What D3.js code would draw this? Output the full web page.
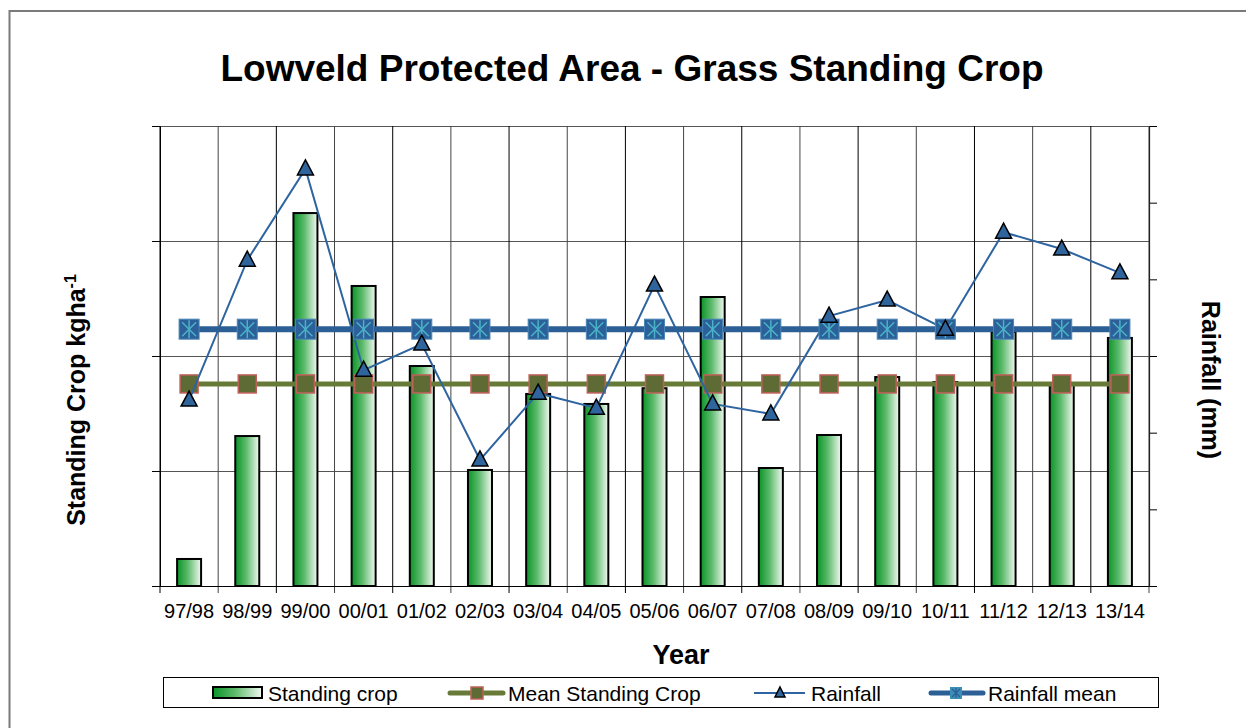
<!DOCTYPE html>
<html><head><meta charset="utf-8">
<script src="https://cdn.jsdelivr.net/npm/d3@7"></script>
<style>
body{margin:0;background:#fff;}
text{font-family:"Liberation Sans",Arial,sans-serif;}
</style></head>
<body><svg id="c" width="1246" height="728"></svg>
<script>
const years = ["97/98","98/99","99/00","00/01","01/02","02/03","03/04","04/05","05/06","06/07","07/08","08/09","09/10","10/11","11/12","12/13","13/14"];
const standingCrop = [235,1304,3243,2609,1913,1009,1670,1583,1720,2513,1026,1313,1817,1774,2209,1748,2157];
const meanStandingCrop = 1757;
const rainfall = [485,850,1088,563,631,329,503,464,785,475,449,704,746,670,923,879,817];
const rainfallMean = 670;
const leftTicks = [0,1000,2000,3000,4000];
const rightTicks = [0,200,400,600,800,1000,1200];

const svg = d3.select("#c");
const L=160,R=1149,T=126,B=586;

// outer border
svg.append("rect").attr("x",9.5).attr("y",11).attr("width",1250).attr("height",730)
  .attr("fill","none").attr("stroke","#7a7a7a").attr("stroke-width",2);

const x = d3.scaleBand().domain(years).range([L,R]).padding(0);
const yL = d3.scaleLinear().domain([0,4000]).range([B,T]);
const yR = d3.scaleLinear().domain([0,1200]).range([B,T]);

const defs = svg.append("defs");
const g = defs.append("linearGradient").attr("id","barGrad").attr("x1","0").attr("x2","1").attr("y1","0").attr("y2","0");
g.append("stop").attr("offset","0").attr("stop-color","#0a9428");
g.append("stop").attr("offset","0.45").attr("stop-color","#5dba6c");
g.append("stop").attr("offset","1").attr("stop-color","#f2f9f2");

// horizontal gridlines
svg.append("g").attr("transform",`translate(${L},0)`)
  .call(d3.axisLeft(yL).tickValues(leftTicks).tickSize(-(R-L)).tickFormat(""))
  .call(s=>s.select(".domain").remove())
  .call(s=>s.selectAll("line").attr("stroke","#555").attr("stroke-width",1.2));
// left ticks outward
svg.append("g").attr("transform",`translate(${L},0)`)
  .call(d3.axisLeft(yL).tickValues(leftTicks).tickSize(8).tickSizeOuter(0).tickFormat(""))
  .call(s=>s.select(".domain").attr("stroke","#000"))
  .call(s=>s.selectAll("line").attr("stroke","#000"));
// right axis
svg.append("g").attr("transform",`translate(${R},0)`)
  .call(d3.axisRight(yR).tickValues(rightTicks).tickSize(8).tickSizeOuter(0).tickFormat(""))
  .call(s=>s.select(".domain").attr("stroke","#000").attr("stroke-width",1.2))
  .call(s=>s.selectAll("line").attr("stroke","#000"));

// vertical gridlines at category boundaries
const bounds = years.map(d=>x(d)).concat([R]);
svg.append("g").selectAll("line").data(bounds).join("line")
  .attr("x1",d=>d).attr("x2",d=>d).attr("y1",T).attr("y2",B+7)
  .attr("stroke",(d,i)=>i%2?"#444":"#000").attr("stroke-width",1);

// x labels
svg.append("g").attr("transform",`translate(0,${B})`)
  .call(d3.axisBottom(x).tickSize(0).tickPadding(18))
  .call(s=>s.select(".domain").attr("stroke","#000"))
  .call(s=>s.selectAll("text").attr("font-size",20).attr("fill","#000").attr("font-family","Liberation Sans, Arial"));

// bars
const bw = 24;
svg.append("g").selectAll("rect").data(years).join("rect")
  .attr("x",(d)=>x(d)+x.bandwidth()/2-bw/2)
  .attr("y",(d,i)=>yL(standingCrop[i]))
  .attr("width",bw)
  .attr("height",(d,i)=>B-yL(standingCrop[i]))
  .attr("fill","url(#barGrad)").attr("stroke","#000").attr("stroke-width",2);

const cx = d=>x(d)+x.bandwidth()/2;

// mean standing crop
svg.append("line").attr("x1",cx(years[0])).attr("x2",cx(years[years.length-1]))
  .attr("y1",yL(meanStandingCrop)).attr("y2",yL(meanStandingCrop))
  .attr("stroke","#687a38").attr("stroke-width",5);
svg.append("g").selectAll("rect").data(years).join("rect")
  .attr("x",d=>cx(d)-9).attr("y",yL(meanStandingCrop)-9).attr("width",18).attr("height",18)
  .attr("fill","#5f6b34").attr("stroke","#c0605a").attr("stroke-width",1.5);

// rainfall line
const line = d3.line().x((d,i)=>cx(years[i])).y(d=>yR(d));
svg.append("path").datum(rainfall).attr("d",line).attr("fill","none")
  .attr("stroke","#2e64a0").attr("stroke-width",2);

// rainfall mean
svg.append("line").attr("x1",cx(years[0])).attr("x2",cx(years[years.length-1]))
  .attr("y1",yR(rainfallMean)).attr("y2",yR(rainfallMean))
  .attr("stroke","#2b5f96").attr("stroke-width",6);
function starMarker(sel,px,py){
  const m = sel.append("g").attr("transform",`translate(${px},${py})`);
  m.append("rect").attr("x",-10).attr("y",-10).attr("width",20).attr("height",20).attr("fill","#2b6098").attr("stroke","#4a86b8").attr("stroke-width",1);
  const c="#4bb3c8";
  m.append("line").attr("x1",-7).attr("y1",-7).attr("x2",7).attr("y2",7).attr("stroke",c).attr("stroke-width",1.5);
  m.append("line").attr("x1",7).attr("y1",-7).attr("x2",-7).attr("y2",7).attr("stroke",c).attr("stroke-width",1.5);
  m.append("line").attr("x1",0).attr("y1",-9).attr("x2",0).attr("y2",9).attr("stroke",c).attr("stroke-width",1.5);
}
const rmG = svg.append("g");
years.forEach(d=>starMarker(rmG,cx(d),yR(rainfallMean)));

// rainfall triangles
function tri(sel,px,py){
  sel.append("path").attr("d",`M${px},${py-9}L${px+8},${py+6}L${px-8},${py+6}Z`)
    .attr("fill","#2f649c").attr("stroke","#000").attr("stroke-width",1.5);
}
const trG = svg.append("g");
rainfall.forEach((v,i)=>tri(trG,cx(years[i]),yR(v)));

// titles
svg.append("text").attr("x",632).attr("y",81).attr("text-anchor","middle")
  .attr("font-size",37).attr("font-weight","bold").text("Lowveld Protected Area - Grass Standing Crop");
svg.append("text").attr("x",681).attr("y",664).attr("text-anchor","middle")
  .attr("font-size",27).attr("font-weight","bold").text("Year");
const yl = svg.append("text").attr("transform","translate(85,400) rotate(-90)").attr("text-anchor","middle")
  .attr("font-size",25).attr("font-weight","bold");
yl.append("tspan").text("Standing Crop kgha");
yl.append("tspan").attr("dy",-9).attr("font-size",16).text("-1");
svg.append("text").attr("transform","translate(1202,380) rotate(90)").attr("text-anchor","middle")
  .attr("font-size",25).attr("font-weight","bold").text("Rainfall (mm)");

// legend
const lg = svg.append("g");
lg.append("rect").attr("x",163.5).attr("y",677.5).attr("width",995).attr("height",30)
  .attr("fill","#fff").attr("stroke","#000").attr("stroke-width",1);
const ly = 693;
const fs = 21;
lg.append("rect").attr("x",213).attr("y",687).attr("width",49).attr("height",11)
  .attr("fill","url(#barGrad)").attr("stroke","#000").attr("stroke-width",2);
lg.append("text").attr("x",268).attr("y",ly+8).attr("font-size",fs).text("Standing crop");
lg.append("line").attr("x1",450).attr("x2",503).attr("y1",ly).attr("y2",ly).attr("stroke","#687a38").attr("stroke-width",5).attr("stroke-linecap","round");
lg.append("rect").attr("x",471).attr("y",ly-6).attr("width",12).attr("height",12).attr("fill","#5f6b34").attr("stroke","#c0605a").attr("stroke-width",1.5);
lg.append("text").attr("x",508).attr("y",ly+8).attr("font-size",fs).text("Mean Standing Crop");
lg.append("line").attr("x1",754).attr("x2",805).attr("y1",ly).attr("y2",ly).attr("stroke","#2e64a0").attr("stroke-width",2);
lg.append("path").attr("d",`M780,${ly-6}L785,${ly+4}L775,${ly+4}Z`).attr("fill","#2f649c").attr("stroke","#000").attr("stroke-width",1.5);
lg.append("text").attr("x",811).attr("y",ly+8).attr("font-size",fs).text("Rainfall");
lg.append("line").attr("x1",931).attr("x2",983).attr("y1",ly).attr("y2",ly).attr("stroke","#2b5f96").attr("stroke-width",5).attr("stroke-linecap","round");
const lm = lg.append("g").attr("transform",`translate(956,${ly})`);
lm.append("rect").attr("x",-6).attr("y",-6).attr("width",12).attr("height",12).attr("fill","#3a8fb8");
lm.append("path").attr("d","M-4,-4L4,4M4,-4L-4,4M0,-5L0,5").attr("stroke","#2b5f96").attr("stroke-width",1.2);
lg.append("text").attr("x",988).attr("y",ly+8).attr("font-size",fs).text("Rainfall mean");
</script></body></html>
